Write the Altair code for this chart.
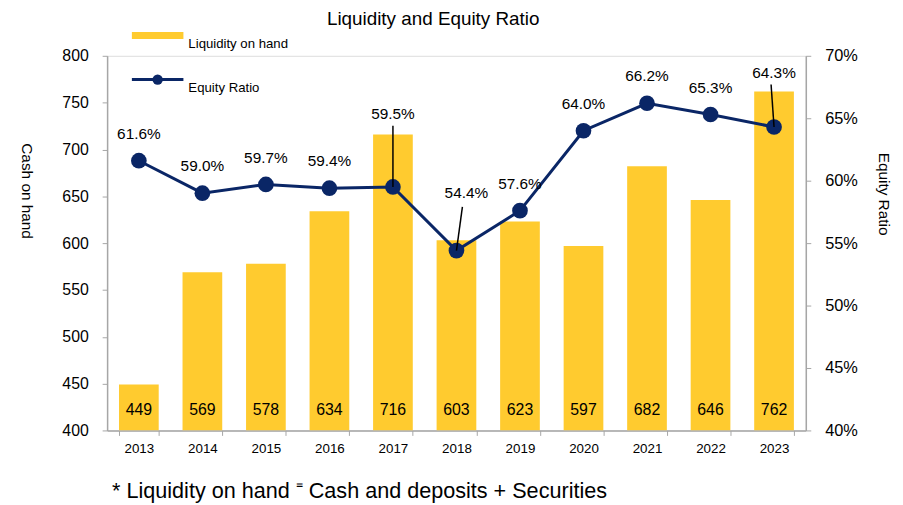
import altair as alt
import pandas as pd

# ---- data ----
years = ["2013", "2014", "2015", "2016", "2017", "2018", "2019", "2020", "2021", "2022", "2023"]
liquidity = [449, 569, 578, 634, 716, 603, 623, 597, 682, 646, 762]
equity_ratio = [61.6, 59.0, 59.7, 59.4, 59.5, 54.4, 57.6, 64.0, 66.2, 65.3, 64.3]

# labels that are lifted away from their point with a leader line
leader_years = ["2017", "2018", "2023"]
leader_label_y = [65.3, 59.05, 68.6]
leader_top_y = [64.4, 57.9, 67.7]
leader_label_dx = [0, 10, 0]
leader_top_dx = [0, 6, -3]

FONT = "Liberation Sans"
BAR_COLOR = "#FFCB2F"
LINE_COLOR = "#0A2666"
AXIS_GRAY = "#A6A6A6"

df = pd.DataFrame({
    "year": years,
    "liq": liquidity,
    "eq": equity_ratio,
    "eq_label": [f"{v:.1f}%" for v in equity_ratio],
})

x_scale = alt.Scale(domain=years, paddingInner=0.375, paddingOuter=0.1875)
x_axis = alt.Axis(
    labelAngle=0, labelFontSize=13.5, labelFont=FONT, labelColor="#000",
    domainColor=AXIS_GRAY, tickColor=AXIS_GRAY, tickSize=5, tickBand="extent",
    labelPadding=6, domainWidth=1.5, grid=False,
)


def xenc(**kw):
    return alt.X("year:N", sort=years, title=None, scale=x_scale, axis=x_axis, **kw)


left_scale = alt.Scale(domain=[400, 800], zero=False, nice=False)
right_scale = alt.Scale(domain=[40, 70], zero=False, nice=False)

left_axis = alt.Axis(
    orient="left", values=list(range(400, 801, 50)), grid=False,
    labelFontSize=16, labelFont=FONT, labelColor="#000", labelPadding=14,
    domainColor=AXIS_GRAY, tickColor=AXIS_GRAY, tickSize=5, domainWidth=1.5,
    title="Cash on hand", titleFont=FONT, titleFontSize=15.5, titleFontWeight="normal",
    titleColor="#000", titleAngle=90, titleX=-81, titleY=136,
    titleAlign="center", titleBaseline="middle",
)
right_axis = alt.Axis(
    orient="right", values=list(range(40, 71, 5)), grid=False,
    labelExpr="datum.value + '%'",
    labelFontSize=16.5, labelFont=FONT, labelColor="#000", labelPadding=14,
    domainColor=AXIS_GRAY, tickColor=AXIS_GRAY, tickSize=5, domainWidth=1.5,
    title="Equity Ratio", titleFont=FONT, titleFontSize=15.5, titleFontWeight="normal",
    titleColor="#000", titleAngle=90, titleX=78, titleY=139,
    titleAlign="center", titleBaseline="middle",
)

base = alt.Chart(df)

bars = base.mark_bar(color=BAR_COLOR, clip=True).encode(
    x=xenc(),
    y=alt.Y("liq:Q", scale=left_scale, axis=left_axis),
    y2=alt.datum(400),
)
bar_text = base.mark_text(font=FONT, fontSize=16, color="#000", baseline="middle").encode(
    x=xenc(),
    y=alt.value(357),
    text="liq:Q",
)
left_layer = alt.layer(bars, bar_text)

line = base.mark_line(color=LINE_COLOR, strokeWidth=3).encode(
    x=xenc(),
    y=alt.Y("eq:Q", scale=right_scale, axis=right_axis),
)
points = base.mark_point(filled=True, size=250, color=LINE_COLOR, opacity=1).encode(
    x=xenc(),
    y=alt.Y("eq:Q", scale=right_scale, axis=right_axis),
)
std_labels = base.transform_filter(
    ~alt.FieldOneOfPredicate(field="year", oneOf=leader_years)
).mark_text(font=FONT, fontSize=15.5, color="#000", dy=-27, baseline="middle").encode(
    x=xenc(),
    y=alt.Y("eq:Q", scale=right_scale, axis=right_axis),
    text="eq_label:N",
)

right_layers = [line, points, std_labels]
for yr, ly, ty, ldx, tdx in zip(leader_years, leader_label_y, leader_top_y, leader_label_dx, leader_top_dx):
    i = years.index(yr)
    ldf = pd.DataFrame({
        "year": [yr], "eq": [equity_ratio[i]], "ly": [ly], "ty": [ty],
        "eq_label": [f"{equity_ratio[i]:.1f}%"],
    })
    lc = alt.Chart(ldf)
    right_layers.append(
        lc.mark_rule(color="#000", strokeWidth=1.5, xOffset=tdx, x2Offset=0).encode(
            x=xenc(bandPosition=0.5),
            x2=alt.X2("year:N", bandPosition=0.5),
            y=alt.Y("ty:Q", scale=right_scale, axis=right_axis),
            y2="eq:Q",
        )
    )
    right_layers.append(
        lc.mark_text(font=FONT, fontSize=15.5, color="#000", dx=ldx, baseline="middle").encode(
            x=xenc(),
            y=alt.Y("ly:Q", scale=right_scale, axis=right_axis),
            text="eq_label:N",
        )
    )
right_layer = alt.layer(*right_layers)

# ---- decorations: title, legend, footnote ----
one = alt.Chart(pd.DataFrame({"a": [0]}))
title_mark = one.mark_text(font=FONT, fontSize=19, color="#000", align="center", baseline="middle",
                           text="Liquidity and Equity Ratio").encode(x=alt.value(329), y=alt.value(-37))
leg_rect = one.mark_rect(color=BAR_COLOR).encode(
    x=alt.value(25), x2=alt.value(77), y=alt.value(-24), y2=alt.value(-17))
leg_text1 = one.mark_text(font=FONT, fontSize=13.3, color="#000", align="left", baseline="middle",
                          text="Liquidity on hand").encode(x=alt.value(82), y=alt.value(-12))
leg_rule = one.mark_rule(color=LINE_COLOR, strokeWidth=3).encode(
    x=alt.value(25), x2=alt.value(77), y=alt.value(24))
leg_point = one.mark_point(filled=True, size=110, color=LINE_COLOR, opacity=1).encode(
    x=alt.value(51), y=alt.value(24))
leg_text2 = one.mark_text(font=FONT, fontSize=13.3, color="#000", align="left", baseline="middle",
                          text="Equity Ratio").encode(x=alt.value(82), y=alt.value(33))
footnote = one.mark_text(font=FONT, fontSize=21.8, color="#000", align="left", baseline="middle",
                         text="* Liquidity on hand \u207c Cash and deposits + Securities").encode(
    x=alt.value(5), y=alt.value(439))

chart = alt.layer(
    left_layer, right_layer,
    title_mark, leg_rect, leg_text1, leg_rule, leg_point, leg_text2, footnote,
).resolve_scale(y="independent").properties(
    width=705, height=378,
    autosize=alt.AutoSizeParams(type="none"),
    padding={"left": 100, "top": 46, "right": 90, "bottom": 73},
).configure_view(stroke=None).configure(background="white")

chart.save("out.html", embed_options={"renderer": "svg", "actions": False})
